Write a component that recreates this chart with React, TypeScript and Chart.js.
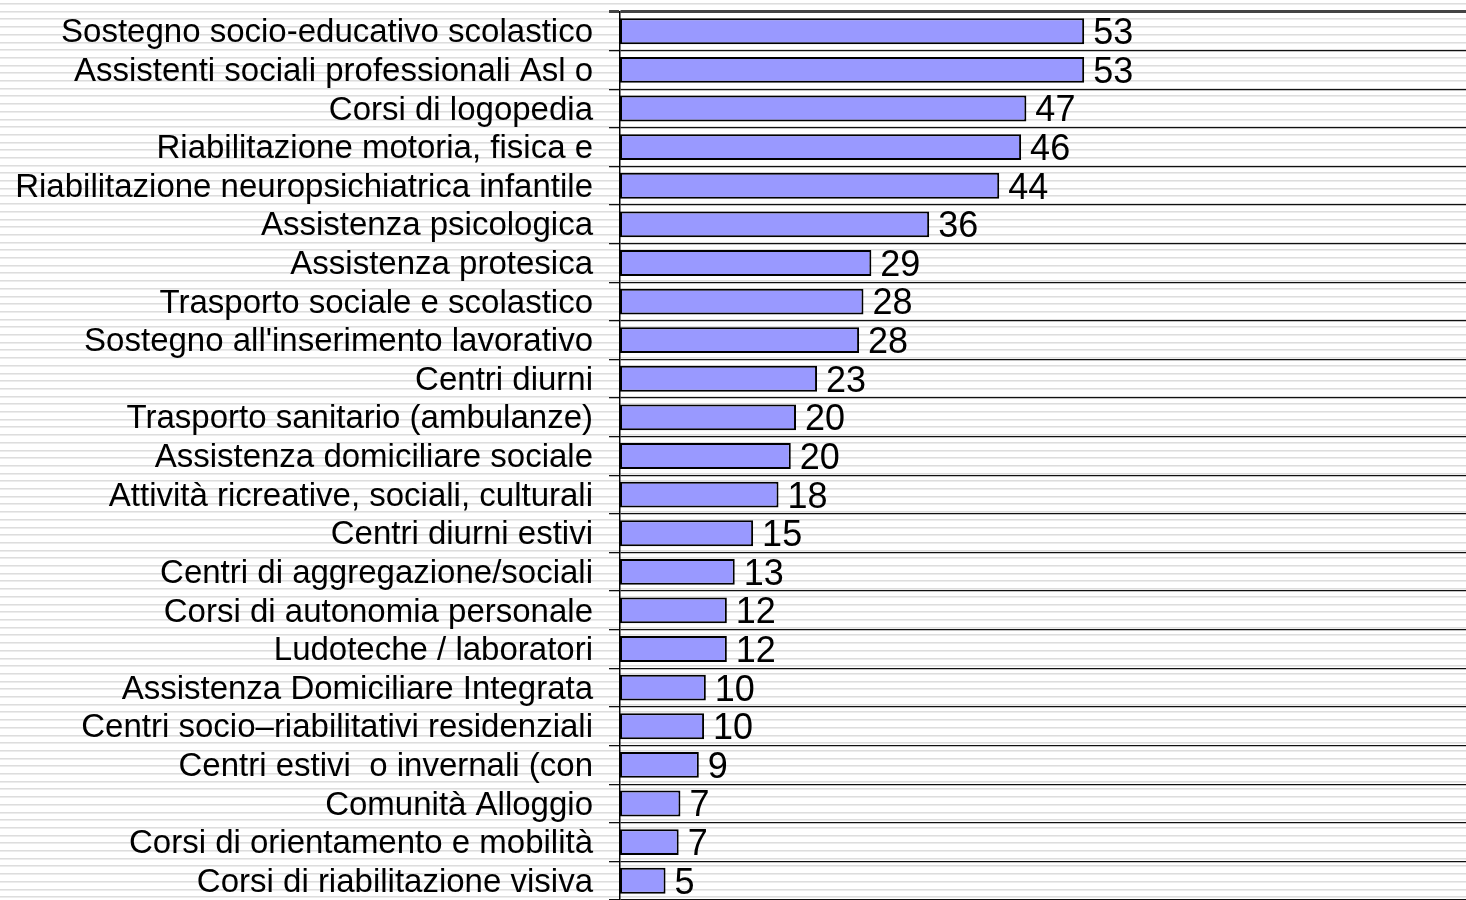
import React, { useEffect, useRef } from "react";
import { Chart, registerables } from "chart.js";

Chart.register(...registerables);

const categories: string[] = [
  "Sostegno socio-educativo scolastico",
  "Assistenti sociali professionali Asl o",
  "Corsi di logopedia",
  "Riabilitazione motoria, fisica e",
  "Riabilitazione neuropsichiatrica infantile",
  "Assistenza psicologica",
  "Assistenza protesica",
  "Trasporto sociale e scolastico",
  "Sostegno all'inserimento lavorativo",
  "Centri diurni",
  "Trasporto sanitario (ambulanze)",
  "Assistenza domiciliare sociale",
  "Attività ricreative, sociali, culturali",
  "Centri diurni estivi",
  "Centri di aggregazione/sociali",
  "Corsi di autonomia personale",
  "Ludoteche / laboratori",
  "Assistenza Domiciliare Integrata",
  "Centri socio–riabilitativi residenziali",
  "Centri estivi  o invernali (con",
  "Comunità Alloggio",
  "Corsi di orientamento e mobilità",
  "Corsi di riabilitazione visiva",
];

// bar lengths as drawn in the picture
const barValues: number[] = [
  53.0, 53.0, 46.4, 45.8, 43.3, 35.3, 28.7, 27.8, 27.3, 22.5, 20.1, 19.5,
  18.1, 15.2, 13.1, 12.2, 12.2, 9.8, 9.6, 9.0, 6.9, 6.7, 5.2,
];

// value labels printed next to the bars
const valueLabels: string[] = [
  "53", "53", "47", "46", "44", "36", "29", "28", "28", "23", "20", "20",
  "18", "15", "13", "12", "12", "10", "10", "9", "7", "7", "5",
];

const xMin = 0;
const xMax = 96.6;

const FONT = "'Liberation Sans', Arial, sans-serif";

const stripesPlugin = {
  id: "stripes",
  beforeDraw(chart: any) {
    const { ctx, width, height } = chart;
    ctx.save();
    ctx.fillStyle = "#ffffff";
    ctx.fillRect(0, 0, width, height);
    for (let y = 3; y < height; y += 7.7) {
      ctx.fillStyle = "#dddddd";
      ctx.fillRect(0, Math.round(y), width, 1);
      ctx.fillStyle = "#ececec";
      ctx.fillRect(0, Math.round(y) + 1, width, 1);
    }
    ctx.restore();
  },
};

const valueLabelPlugin = {
  id: "valueLabels",
  afterDatasetsDraw(chart: any) {
    const { ctx } = chart;
    const meta = chart.getDatasetMeta(0);
    ctx.save();
    ctx.fillStyle = "#000000";
    ctx.font = `36px ${FONT}`;
    ctx.textAlign = "left";
    ctx.textBaseline = "middle";
    meta.data.forEach((el: any, i: number) => {
      ctx.fillText(valueLabels[i], el.x + 9, el.y + 3);
    });
    ctx.restore();
  },
};

export default function App() {
  const ref = useRef<HTMLCanvasElement | null>(null);

  useEffect(() => {
    document.body.style.margin = "0";
    const canvas = ref.current;
    if (!canvas) return;
    const chart = new Chart(canvas, {
      type: "bar",
      data: {
        labels: categories,
        datasets: [
          {
            data: barValues,
            backgroundColor: "#9999ff",
            borderColor: "#000000",
            borderWidth: 2,
            borderSkipped: false,
            barPercentage: 0.67,
            categoryPercentage: 1,
          },
        ],
      },
      options: {
        indexAxis: "y",
        animation: false,
        responsive: false,
        maintainAspectRatio: false,
        layout: { padding: { top: 12, right: 0, bottom: 0, left: 0 } },
        plugins: {
          legend: { display: false },
          tooltip: { enabled: false },
          title: { display: false },
        },
        scales: {
          x: {
            display: false,
            min: xMin,
            max: xMax,
          },
          y: {
            type: "category",
            afterFit: (scale: any) => {
              scale.width = 620;
              scale.paddingTop = 0;
              scale.paddingBottom = 0;
            },
            border: { display: true, color: "#000000", width: 1.5 },
            grid: {
              offset: true,
              drawTicks: true,
              tickLength: 11,
              color: (ctx: any) => (ctx.index === 0 ? "#444444" : "#111111"),
              lineWidth: (ctx: any) => (ctx.index === 0 ? 3 : 1.3),
            },
            ticks: {
              color: "#000000",
              padding: 16,
              labelOffset: 2,
              autoSkip: false,
              font: { family: FONT, size: 33 },
            },
          },
        },
      },
      plugins: [stripesPlugin, valueLabelPlugin],
    });
    return () => chart.destroy();
  }, []);

  return (
    <div style={{ width: 1466, height: 900 }}>
      <canvas ref={ref} width={1466} height={900} style={{ display: "block" }} />
    </div>
  );
}
